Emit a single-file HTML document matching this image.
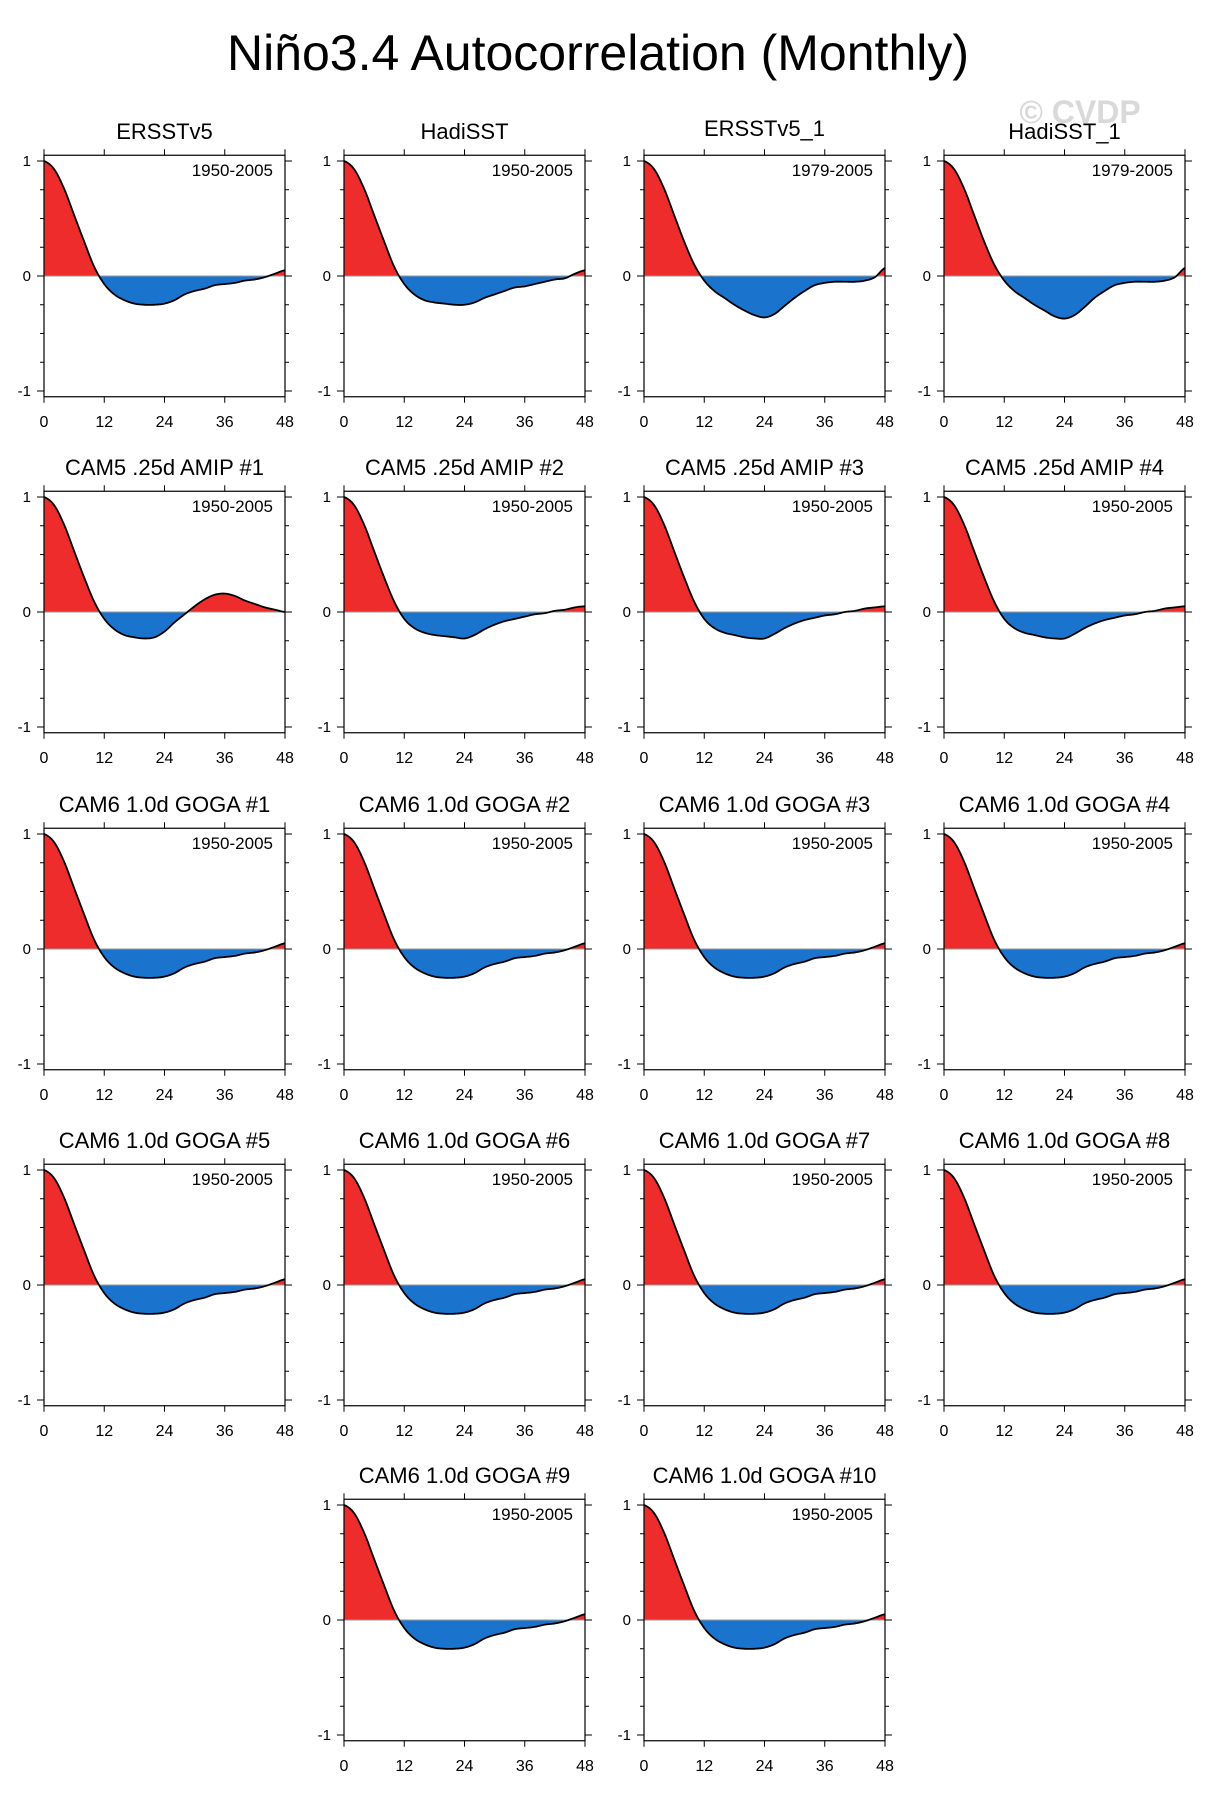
<!DOCTYPE html>
<html><head><meta charset="utf-8">
<style>
html,body{margin:0;padding:0;background:#fff;}
svg{display:block;font-family:"Liberation Sans",Arial,sans-serif;}
</style></head>
<body>
<svg id="chart" width="1207" height="1798" viewBox="0 0 1207 1798" xmlns="http://www.w3.org/2000/svg">
<text x="598" y="70" font-size="50" text-anchor="middle">Niño3.4 Autocorrelation (Monthly)</text>
<text x="1080" y="123" font-size="32" font-weight="bold" fill="#d9d9d9" text-anchor="middle">© CVDP</text>
</svg>
<script>
// lags every 2 months from 0 to 48
const lags = [0,2,4,6,8,10,12,14,16,18,20,22,24,26,28,30,32,34,36,38,40,42,44,46,48];
const ersstv5 =   [1,0.93,0.76,0.53,0.30,0.08,-0.07,-0.16,-0.21,-0.24,-0.25,-0.25,-0.24,-0.21,-0.16,-0.13,-0.11,-0.08,-0.07,-0.06,-0.04,-0.03,-0.01,0.02,0.05];
const hadisst =   [1,0.93,0.76,0.53,0.30,0.08,-0.07,-0.16,-0.21,-0.23,-0.24,-0.25,-0.25,-0.23,-0.19,-0.16,-0.13,-0.10,-0.09,-0.07,-0.05,-0.03,-0.02,0.02,0.05];
const ersstv5_1 = [1,0.93,0.76,0.53,0.30,0.10,-0.04,-0.13,-0.19,-0.25,-0.30,-0.34,-0.36,-0.33,-0.26,-0.19,-0.13,-0.08,-0.06,-0.05,-0.05,-0.05,-0.04,-0.01,0.07];
const hadisst_1 = [1,0.93,0.76,0.53,0.30,0.10,-0.04,-0.13,-0.19,-0.25,-0.30,-0.35,-0.37,-0.34,-0.27,-0.19,-0.13,-0.08,-0.06,-0.05,-0.05,-0.05,-0.04,-0.01,0.07];
const amip1 =     [1,0.93,0.76,0.53,0.30,0.09,-0.06,-0.15,-0.20,-0.22,-0.23,-0.22,-0.17,-0.09,-0.02,0.05,0.11,0.15,0.16,0.14,0.10,0.07,0.04,0.02,0.00];
const amip2 =     [1,0.93,0.76,0.53,0.30,0.09,-0.06,-0.14,-0.18,-0.20,-0.21,-0.22,-0.23,-0.20,-0.15,-0.11,-0.08,-0.06,-0.04,-0.02,-0.01,0.01,0.02,0.04,0.05];
const amip3 =     [1,0.93,0.76,0.53,0.30,0.09,-0.06,-0.14,-0.18,-0.20,-0.22,-0.23,-0.23,-0.19,-0.14,-0.10,-0.07,-0.05,-0.03,-0.02,0.00,0.01,0.03,0.04,0.05];
const amip4 =     [1,0.93,0.76,0.53,0.30,0.09,-0.06,-0.14,-0.18,-0.20,-0.22,-0.23,-0.23,-0.19,-0.14,-0.10,-0.07,-0.05,-0.03,-0.02,0.00,0.01,0.03,0.04,0.05];
const goga =      [1,0.93,0.76,0.53,0.30,0.08,-0.07,-0.16,-0.21,-0.24,-0.25,-0.25,-0.24,-0.21,-0.16,-0.13,-0.11,-0.08,-0.07,-0.06,-0.04,-0.03,-0.01,0.02,0.05];
const titles = ["ERSSTv5","HadiSST","ERSSTv5_1","HadiSST_1","CAM5 .25d AMIP #1","CAM5 .25d AMIP #2","CAM5 .25d AMIP #3","CAM5 .25d AMIP #4",
 "CAM6 1.0d GOGA #1","CAM6 1.0d GOGA #2","CAM6 1.0d GOGA #3","CAM6 1.0d GOGA #4","CAM6 1.0d GOGA #5","CAM6 1.0d GOGA #6","CAM6 1.0d GOGA #7","CAM6 1.0d GOGA #8",
 "CAM6 1.0d GOGA #9","CAM6 1.0d GOGA #10"];
const periods = ["1950-2005","1950-2005","1979-2005","1979-2005"];
const series = [ersstv5,hadisst,ersstv5_1,hadisst_1,amip1,amip2,amip3,amip4,goga,goga,goga,goga,goga,goga,goga,goga,goga,goga];
const xTicks = [0,12,24,36,48];
const yTicks = [-1,0,1];

const NS="http://www.w3.org/2000/svg";
const svg=document.getElementById('chart');
function mk(tag,attrs,parent){const e=document.createElementNS(NS,tag);for(const k in attrs)e.setAttribute(k,attrs[k]);(parent||svg).appendChild(e);return e;}
const colX=[44,344,644,944], rowZ=[276,612,949,1285,1620];
const W=241, U=115;
function cr(arr,t){
  const n=arr.length, i=Math.min(Math.floor(t),n-2), f=t-i;
  const p0=arr[Math.max(i-1,0)],p1=arr[i],p2=arr[i+1],p3=arr[Math.min(i+2,n-1)];
  return 0.5*((2*p1)+(-p0+p2)*f+(2*p0-5*p1+4*p2-p3)*f*f+(-p0+3*p1-3*p2+p3)*f*f*f);
}
titles.forEach((title,k)=>{
  let r,c;
  if(k<16){r=Math.floor(k/4);c=k%4;} else {r=4;c=k-15;}
  const x0=colX[c], z=rowZ[r];
  const xs=v=>x0+v/48*W, ys=v=>z-v*U;
  const g=mk('g',{});
  
  
  const data=series[k];
  const pts=[];
  const N=(lags.length-1)*12;
  for(let j=0;j<=N;j++){const t=j/12;const lag=lags[0]+t*(lags[1]-lags[0]);pts.push([xs(lag),ys(cr(data,t))]);}
  const line=pts.map((p,i)=>(i?'L':'M')+p[0].toFixed(2)+' '+p[1].toFixed(2)).join(' ');
  const area=line+' L'+xs(48)+' '+z+' L'+xs(0)+' '+z+' Z';
  const cpA=mk('clipPath',{id:'ca'+k},g); mk('rect',{x:x0,y:z-130,width:W,height:130},cpA);
  const cpB=mk('clipPath',{id:'cb'+k},g); mk('rect',{x:x0,y:z,width:W,height:130},cpB);
  const pos=mk('path',{d:area,fill:'#ee2c2c','clip-path':'url(#ca'+k+')'},g);
  
  
  const neg=mk('path',{d:area,fill:'#1a74cd','clip-path':'url(#cb'+k+')'},g);
  
  
  mk('line',{x1:x0,x2:x0+W,y1:z,y2:z,stroke:'#999','stroke-width':1},g);
  const ln=mk('path',{d:line,fill:'none',stroke:'#000','stroke-width':1.8},g);
  
  
  const top=z-1.05*U, bot=z+1.05*U;
  const fr=mk('rect',{x:x0,y:top,width:W,height:bot-top,fill:'none',stroke:'#000','stroke-width':1.2},g);
  
  
  for(let v=-1;v<=1.001;v+=0.25){
    const maj=Math.abs(v%1)<0.01, L=maj?7:4;
    mk('line',{x1:x0-L,x2:x0,y1:ys(v),y2:ys(v),stroke:'#000','stroke-width':1},g);
    mk('line',{x1:x0+W,x2:x0+W+L,y1:ys(v),y2:ys(v),stroke:'#000','stroke-width':1},g);
  }
  xTicks.forEach(v=>{
    mk('line',{x1:xs(v),x2:xs(v),y1:top-6,y2:top,stroke:'#000','stroke-width':1},g);
    mk('line',{x1:xs(v),x2:xs(v),y1:bot,y2:bot+6,stroke:'#000','stroke-width':1},g);
    const t=mk('text',{x:xs(v),y:z+151,'font-size':16,'text-anchor':'middle'},g);
    t.textContent=v;
    
    
  });
  yTicks.forEach(v=>{
    const t=mk('text',{x:x0-13,y:ys(v)+5,'font-size':15,'text-anchor':'end'},g);
    t.textContent=v;
    
    
  });
  const tt=mk('text',{x:x0+W/2,y:z-(k===2?140:137),'font-size':22,'text-anchor':'middle'},g);
  tt.textContent=title;
  
  
  const pt=mk('text',{x:x0+W-12,y:z-100,'font-size':17,'text-anchor':'end'},g);
  pt.textContent=periods[k]||"1950-2005";
  
  
});
</script>
</body></html>
